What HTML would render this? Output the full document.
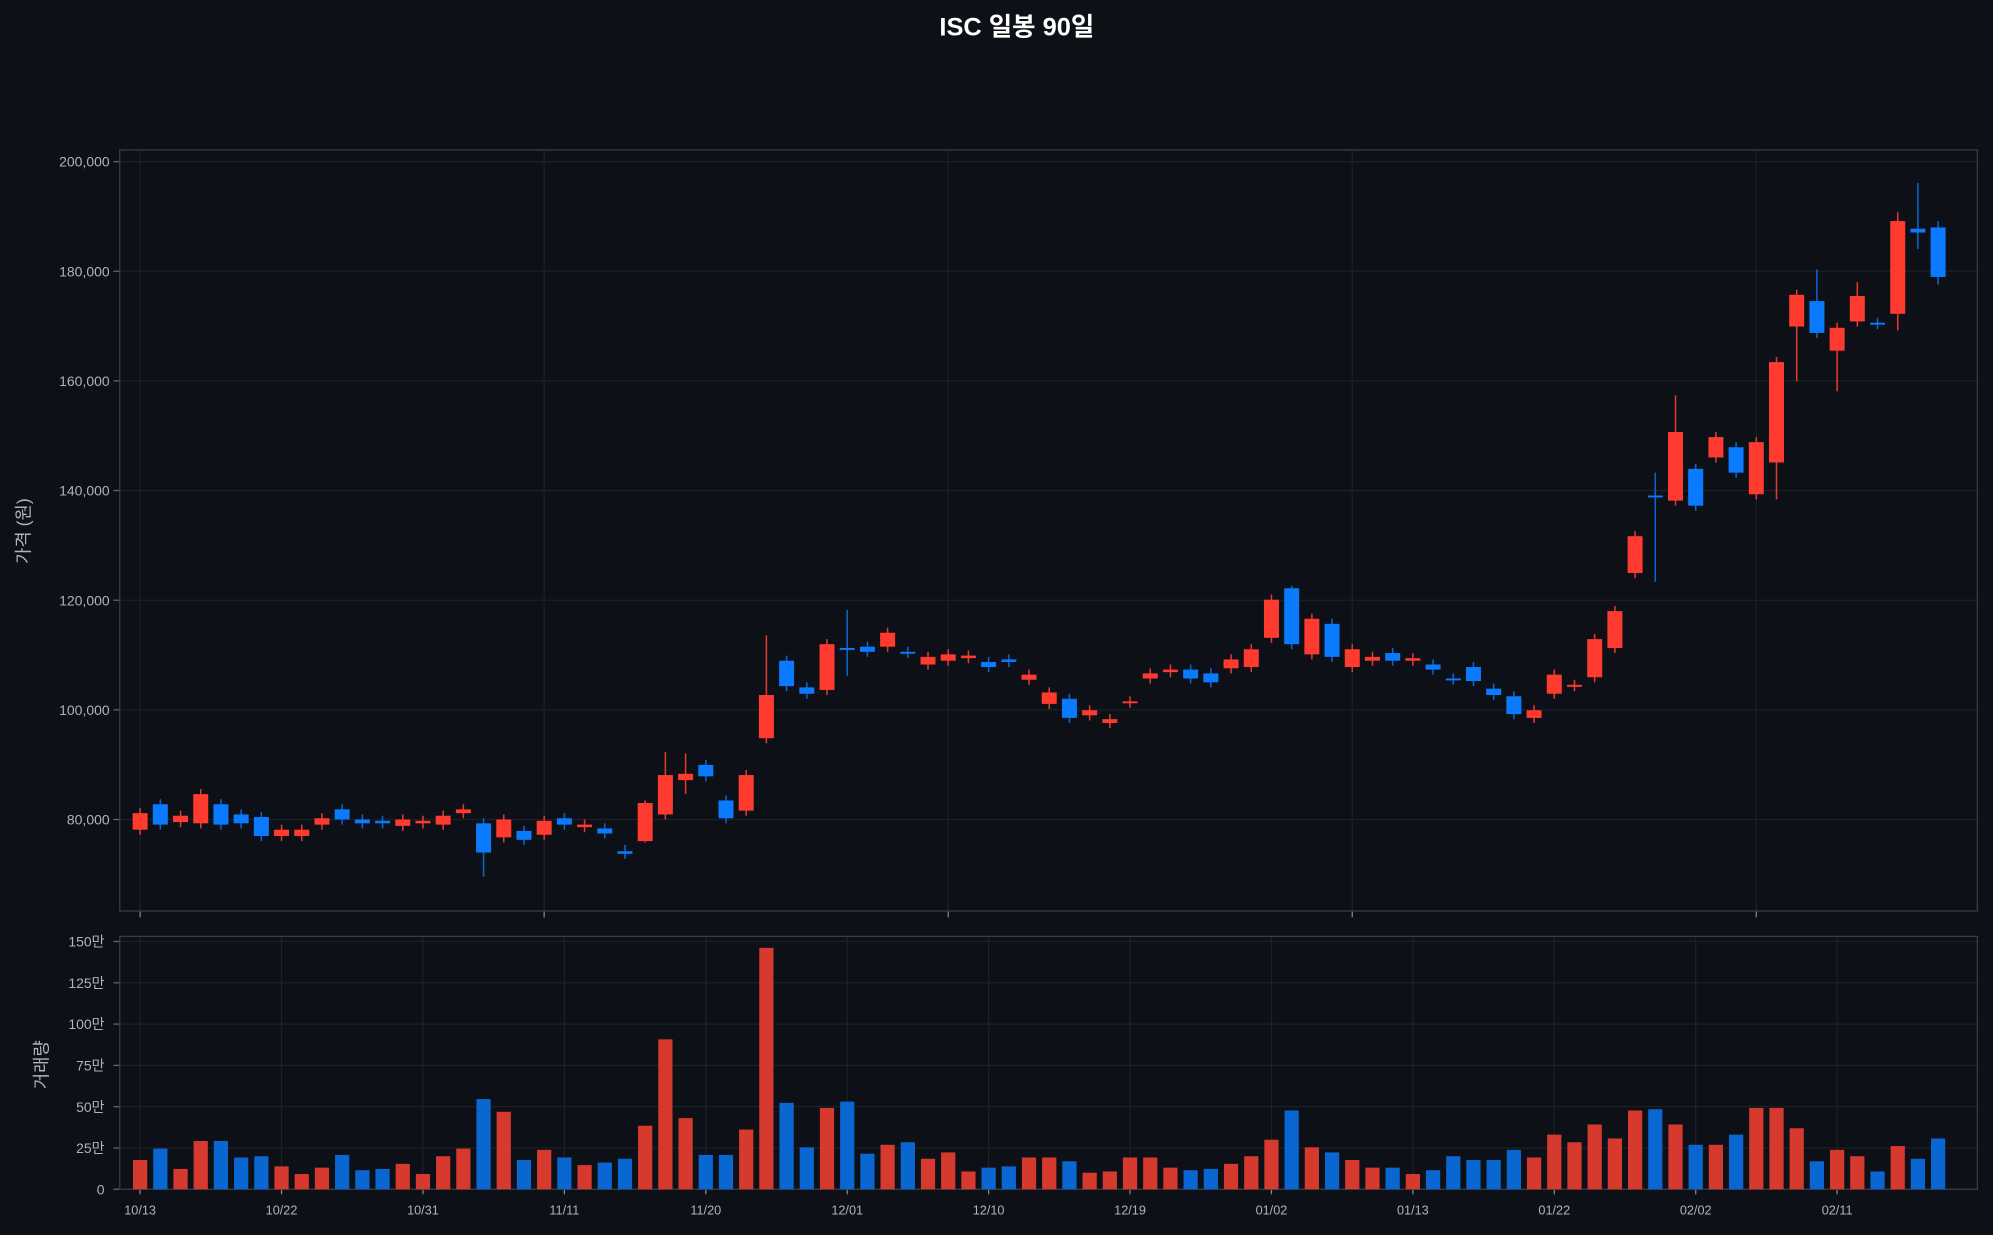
<!DOCTYPE html>
<html><head><meta charset="utf-8"><style>
html,body{margin:0;padding:0;background:#0d1017;}
svg{display:block;}
</style></head><body>
<svg id="s" width="1993" height="1235" viewBox="0 0 1568 972" xmlns="http://www.w3.org/2000/svg" font-family="Liberation Sans, Noto Sans CJK KR, sans-serif">
<rect width="1568" height="972" fill="#0d1017"/>
<text x="800" y="28" fill="#fff" font-size="20" font-weight="bold" text-anchor="middle">ISC 일봉 90일</text>
<g id="g"></g>
</svg>
<script>
const B=[[0,'r',640,653],[1,'b',633,649],[2,'r',642,647],[3,'r',625,648],[4,'b',633,649],[5,'b',641,648],[6,'b',643,658],[7,'r',653,658],[8,'r',653,658],[9,'r',644,649],[10,'b',637,645],[11,'b',645,648],[12,'b',646,648],[13,'r',645,650],[14,'r',646,648],[15,'r',642,649],[16,'r',637,640],[17,'b',648,671],[18,'r',645,659],[19,'b',654,661],[20,'r',646,657],[21,'b',644,649],[22,'r',649,651],[23,'b',652,656],[24,'b',670,672],[25,'r',632,662],[26,'r',610,641],[27,'r',609,614],[28,'b',602,611],[29,'b',630,644],[30,'r',610,638],[31,'r',547,581],[32,'b',520,540],[33,'b',541,546],[34,'r',507,543],[35,'b',510,511],[36,'b',509,513],[37,'r',498,509],[38,'b',513,514],[39,'r',517,523],[40,'r',515,520],[41,'r',516,518],[42,'b',521,525],[43,'b',519,521],[44,'r',531,535],[45,'r',545,554],[46,'b',550,565],[47,'r',559,563],[48,'r',566,569],[49,'r',552,553],[50,'r',530,534],[51,'r',527,529],[52,'b',527,534],[53,'b',530,537],[54,'r',519,526],[55,'r',511,525],[56,'r',472,502],[57,'b',463,507],[58,'r',487,515],[59,'b',491,517],[60,'r',511,525],[61,'r',517,520],[62,'b',514,520],[63,'r',518,520],[64,'b',523,527],[65,'b',534,535],[66,'b',525,536],[67,'b',542,547],[68,'b',548,562],[69,'r',559,565],[70,'r',531,546],[71,'r',539,540],[72,'r',503,533],[73,'r',481,510],[74,'r',422,451],[75,'b',390,391],[76,'r',340,394],[77,'b',369,398],[78,'r',344,360],[79,'b',352,372],[80,'r',348,389],[81,'r',285,364],[82,'r',232,257],[83,'b',237,262],[84,'r',258,276],[85,'r',233,253],[86,'b',254,255],[87,'r',174,247],[88,'b',180,183],[89,'b',179,218]];
const W={17:[0,690],31:[500,0],35:[480,532],57:[461,0],75:[372,458],76:[311,0],81:[0,393],82:[0,300],83:[212,0],84:[0,308],88:[144,196],87:[167,260],89:[174,224],85:[222,0],24:[665,676],25:[630,663],26:[592,0],27:[593,625]};
const V=[913,904,920,898,898,911,910,918,924,919,909,921,920,916,924,910,904,865,875,913,905,911,917,915,912,886,818,880,909,909,889,746,868,903,872,867,908,901,899,912,907,922,919,918,911,911,914,923,922,911,911,919,921,920,916,910,897,874,903,907,913,919,919,924,921,910,913,913,905,911,893,899,885,896,874,873,885,901,901,893,872,872,888,914,905,910,922,902,912,896];
let h='';const X=i=>110+15.9*i;
const grid='#1c2027',fr='#3a3d42',tc='#b0b3b8';
// price grid
for(let k=0;k<=6;k++){const p=80000+20000*k,y=645-(p-80000)/20000*86.3;h+=`<line x1="94" x2="1556" y1="${y}" y2="${y}" stroke="${grid}"/><line x1="89" x2="94" y1="${y}" y2="${y}" stroke="#666"/><text x="86" y="${y+4}" fill="${tc}" font-size="11" text-anchor="end">${p.toLocaleString('en-US')}</text>`;}
[0,20,40,60,80].forEach(i=>{const x=X(i);h+=`<line x1="${x}" x2="${x}" y1="118" y2="717" stroke="${grid}"/><line x1="${x}" x2="${x}" y1="717" y2="722" stroke="#888"/>`;});
h+=`<rect x="94" y="118" width="1462" height="599" fill="none" stroke="${fr}"/>`;
// volume grid
['0','25만','50만','75만','100만','125만','150만'].forEach((t,k)=>{const y=936-32.5*k;h+=`<line x1="94" x2="1556" y1="${y}" y2="${y}" stroke="${grid}"/><line x1="89" x2="94" y1="${y}" y2="${y}" stroke="#666"/><text x="82" y="${y+4}" fill="${tc}" font-size="11" text-anchor="end">${t}</text>`;});
const dl=['10/13','10/22','10/31','11/11','11/20','12/01','12/10','12/19','01/02','01/13','01/22','02/02','02/11'];
dl.forEach((t,k)=>{const x=X(7*k);h+=`<line x1="${x}" x2="${x}" y1="737" y2="936" stroke="${grid}"/><line x1="${x}" x2="${x}" y1="936" y2="940" stroke="#888"/><text x="${x}" y="956" fill="${tc}" font-size="10" text-anchor="middle">${t}</text>`;});
h+=`<rect x="94" y="737" width="1462" height="199" fill="none" stroke="${fr}"/>`;
// candles
B.forEach(([i,c,t,b])=>{const x=X(i);const w=W[i]||[0,0];const hi=w[0]||t-4,lo=w[1]||b+4;
const wc=c=='r'?'#e8392f':'#0a66d0',bc=c=='r'?'#ff3b30':'#0a7aff';
h+=`<line x1="${x}" x2="${x}" y1="${hi}" y2="${lo}" stroke="${wc}" stroke-width="1.2"/><rect x="${x-5.9}" y="${t}" width="11.8" height="${Math.max(b-t,1.5)}" fill="${bc}"/>`;
const vy=V[i];h+=`<rect x="${x-5.6}" y="${vy}" width="11.2" height="${936-vy}" fill="${c=='r'?'#d63a2f':'#0a66d0'}"/>`;});
h+=`<text transform="translate(23,418) rotate(-90)" fill="${tc}" font-size="14" text-anchor="middle">가격 (원)</text>`;
h+=`<text transform="translate(37,838) rotate(-90)" fill="${tc}" font-size="14" text-anchor="middle">거래량</text>`;
document.getElementById('g').innerHTML=h;
</script>
</body></html>
